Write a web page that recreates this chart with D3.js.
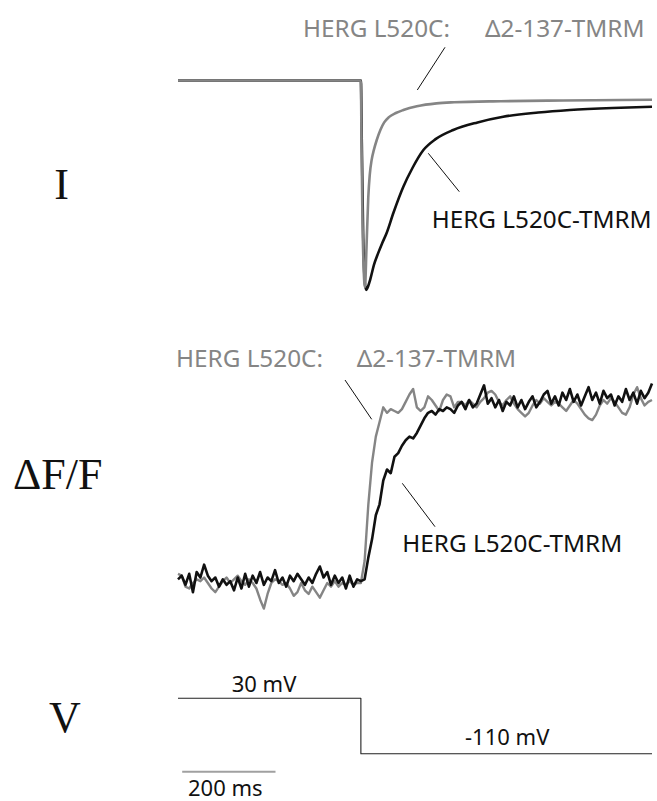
<!DOCTYPE html>
<html>
<head>
<meta charset="utf-8">
<script src="https://cdn.jsdelivr.net/npm/d3@7"></script>
<style>
  body { margin: 0; background: #fff; }
  svg { display: block; }
</style>
</head>
<body>
<div id="body"></div>
<script>
// times are ms relative to the step from +30 to -110 mV
const currentTimesGray = [-392, 0, 1, 3, 6, 8.8, 12, 15.8, 19, 23, 28, 34, 42, 50, 60, 75, 91, 120, 162, 200, 300, 400, 500, 624];
const currentGray = [0, 0, -0.2, -0.6, -0.9, -0.986, -0.8, -0.56, -0.45, -0.38, -0.33, -0.284, -0.235, -0.2, -0.175, -0.155, -0.141, -0.123, -0.109, -0.104, -0.099, -0.096, -0.094, -0.092];
const currentTimesBlack = [-392, 0, 2, 5, 8, 11, 14, 20, 28, 36, 45, 55, 70, 91, 110, 134, 160, 198, 250, 305, 380, 448, 540, 624];
const currentBlack = [0, 0, -0.3, -0.75, -0.95, -1.0, -0.99, -0.95, -0.88, -0.83, -0.78, -0.729, -0.63, -0.507, -0.42, -0.332, -0.28, -0.236, -0.2, -0.173, -0.153, -0.141, -0.131, -0.125];

// fluorescence, sampled every 8 ms from -392 ms (percent of max change)
const fluoTimes = d3.range(-392, 625, 8);
const fluoGray = [5, 4, -2, -3, 0, 2, 1, 3, 0, -3, -5, -2, 1, 3, 0, 2, 4, 1, -1, 2,
  0, -3, -9, -14, -6, 0, 2, 1, -1, 0, -3, -7, -5, 0, -4, -6, -2, -5, -8, -4,
  0, -2, 1, -2, 0, -1, 1, -1, 0, 0, 12, 43, 66, 80, 88, 96, 93, 95, 94, 93,
  95, 99, 103, 106, 96, 94, 96, 102, 100, 97, 94, 100, 103, 102, 96, 99, 99, 97, 100, 98,
  96, 99, 101, 104, 105, 103, 99, 97, 100, 102, 98, 95, 93, 91, 93, 97, 100, 98, 101, 99,
  97, 99, 98, 96, 94, 97, 100, 98, 95, 92, 90, 89, 92, 97, 100, 98, 101, 99, 96, 93,
  92, 96, 103, 107, 101, 97, 99, 100];
const fluoBlack = [2, 4, -1, 5, -5, 6, 3, 10, 4, 1, 3, -2, 2, -1, 1, -4, 3, -3, 5, -2,
  4, 0, 6, -1, 3, 1, 7, 0, 3, -2, 4, 1, 5, 2, -1, 3, 0, 5, 9, 3,
  6, -1, 4, 0, 3, -3, 4, -2, 2, 1, 2, 14, 24, 37, 43, 56, 62, 60, 69, 71,
  75, 78, 80, 79, 82, 86, 90, 93, 94, 92, 95, 94, 96, 95, 93, 97, 99, 95, 100, 96,
  98, 103, 108, 98, 101, 96, 100, 94, 99, 97, 102, 96, 100, 95, 99, 102, 96, 99, 103, 105,
  98, 102, 97, 104, 100, 106, 99, 103, 97, 102, 107, 100, 104, 98, 105, 101, 103, 97, 102, 99,
  106, 100, 104, 98, 105, 101, 104, 109];

const voltTimes = [-392, 0, 0, 624];
const voltValues = [30, 30, -110, -110];

const panelLabels = ["I", "\u0394F/F", "V"];
const traceLabels = ["HERG L520C:", "\u03942-137-TMRM", "HERG L520C-TMRM"];
const voltLabels = ["30 mV", "-110 mV"];
const scaleBarMs = 200;

const width = 657, height = 801;
const gray = "#858585";

const svg = d3.select("#body")
              .append("svg")
              .attr("width", width)
              .attr("height", height);

svg.append("rect").attr("width", width).attr("height", height).attr("fill", "#fff");

const x = d3.scaleLinear().domain([-392, 624]).range([178, 652]);
const yI = d3.scaleLinear().domain([-1, 0]).range([290, 80.5]);
const yF = d3.scaleLinear().domain([0, 100]).range([583, 400]);
const yV = d3.scaleLinear().domain([-110, 30]).range([753.7, 698.3]);

function drawTrace(times, vals, yScale, color, w, curve) {
  const line = d3.line()
                 .x((d, i) => x(times[i]))
                 .y(d => yScale(d))
                 .curve(curve);
  svg.append("path")
     .datum(vals)
     .attr("d", line)
     .attr("fill", "none")
     .attr("stroke", color)
     .attr("stroke-width", w)
     .attr("stroke-linejoin", "round");
}

// current panel: black under gray
drawTrace(currentTimesBlack, currentBlack, yI, "#111", 2.6, d3.curveMonotoneX);
drawTrace(currentTimesGray, currentGray, yI, gray, 2.6, d3.curveMonotoneX);

// fluorescence panel: gray under black
drawTrace(fluoTimes, fluoGray, yF, gray, 2.4, d3.curveLinear);
drawTrace(fluoTimes, fluoBlack, yF, "#111", 2.6, d3.curveLinear);

// voltage protocol
drawTrace(voltTimes, voltValues, yV, "#222", 1.1, d3.curveLinear);

// scale bar
svg.append("line")
   .attr("x1", x(-383)).attr("x2", x(-383 + scaleBarMs))
   .attr("y1", 771.7).attr("y2", 771.7)
   .attr("stroke", "#a0a0a0")
   .attr("stroke-width", 2);

// big serif labels on the left
const serif = "'Liberation Serif', 'DejaVu Serif', serif";
svg.append("text").text(panelLabels[0]).attr("x", 61.7).attr("y", 198.5)
   .attr("text-anchor", "middle").attr("font-family", serif).attr("font-size", 44).attr("fill", "#111");
svg.append("text").text(panelLabels[1]).attr("x", 13).attr("y", 488.5)
   .attr("font-family", serif).attr("font-size", 44).attr("fill", "#111");
svg.append("text").text(panelLabels[2]).attr("x", 65).attr("y", 731.5)
   .attr("text-anchor", "middle").attr("font-family", serif).attr("font-size", 44).attr("fill", "#111");

// trace annotations
const sans = "'Noto Sans', 'Open Sans', sans-serif";
function label(str, lx, ly, color, size) {
  svg.append("text").text(str)
     .attr("x", lx).attr("y", ly)
     .attr("font-family", sans)
     .attr("font-size", size)
     .attr("fill", color);
}
function leader(x1, y1, x2, y2) {
  svg.append("line")
     .attr("x1", x1).attr("y1", y1).attr("x2", x2).attr("y2", y2)
     .attr("stroke", "#111").attr("stroke-width", 1);
}

label(traceLabels[0], 303, 37, gray, 24.3);
label(traceLabels[1], 485, 37, gray, 24.3);
label(traceLabels[2], 431.7, 228, "#111", 24.3);
leader(445, 47.3, 417.3, 90);
leader(428.3, 153.3, 459.3, 191.7);

label(traceLabels[0], 176, 366.7, gray, 24.3);
label(traceLabels[1], 356.7, 366.7, gray, 24.3);
label(traceLabels[2], 402.3, 551.7, "#111", 24.3);
leader(345, 380, 371.7, 419.3);
leader(402.3, 483.3, 435, 526.7);

label(voltLabels[0], 231.7, 691.7, "#111", 22);
label(voltLabels[1], 465, 745, "#111", 22);
label(scaleBarMs + " ms", 188, 795.5, "#111", 22);
</script>
</body>
</html>
